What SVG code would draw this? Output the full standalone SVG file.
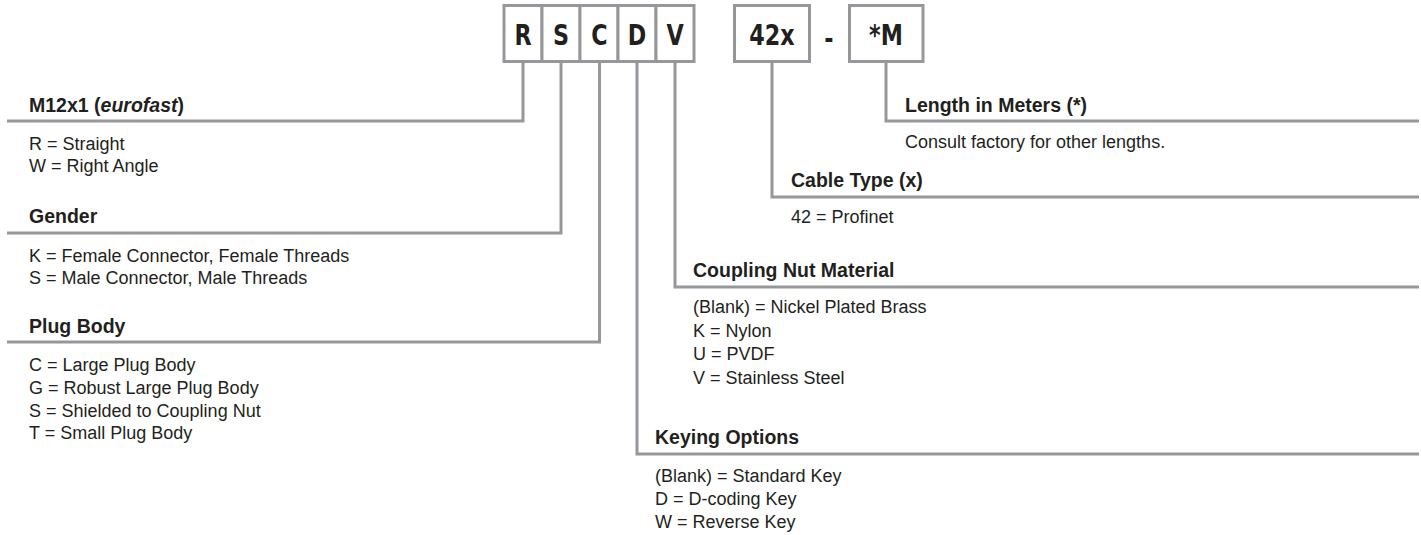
<svg xmlns="http://www.w3.org/2000/svg" width="1421" height="535" viewBox="0 0 1421 535">
<style>
.cell{fill:#ffffff;stroke:#96979b;stroke-width:3}
.code{font-family:"DejaVu Sans Condensed","DejaVu Sans",sans-serif;font-stretch:condensed;font-weight:bold;font-size:27.5px;fill:#231f20;text-anchor:middle}
.lead{fill:none;stroke:#96979b;stroke-width:3;stroke-linejoin:miter;stroke-linecap:butt}
.hd{font-family:"Liberation Sans",Arial,sans-serif;font-weight:bold;font-size:19.5px;fill:#231f20}
.bd{font-family:"Liberation Sans",Arial,sans-serif;font-size:18px;fill:#231f20}
</style>
<rect width="1421" height="535" fill="#ffffff"/>

<g id="connectors">
<polyline class="lead" points="523,61.5 523,121 7,121"/>
<polyline class="lead" points="561,61.5 561,233 7,233"/>
<polyline class="lead" points="599.5,61.5 599.5,342 7,342"/>
<polyline class="lead" points="637,61.5 637,454 1419,454"/>
<polyline class="lead" points="675,61.5 675,287 1419,287"/>
<polyline class="lead" points="772,61.5 772,197 1419,197"/>
<polyline class="lead" points="886,61.5 886,121 1419,121"/>
</g>

<g id="code-R"><rect class="cell" x="504" y="5.5" width="38" height="56"/><text class="code" transform="translate(523,45) scale(0.9,1)">R</text></g>
<g id="code-S"><rect class="cell" x="542" y="5.5" width="38" height="56"/><text class="code" transform="translate(561,45) scale(0.9,1)">S</text></g>
<g id="code-C"><rect class="cell" x="580" y="5.5" width="38" height="56"/><text class="code" transform="translate(599.5,45) scale(0.9,1)">C</text></g>
<g id="code-D"><rect class="cell" x="618" y="5.5" width="38" height="56"/><text class="code" transform="translate(637,45) scale(0.9,1)">D</text></g>
<g id="code-V"><rect class="cell" x="656" y="5.5" width="38" height="56"/><text class="code" transform="translate(675,45) scale(0.9,1)">V</text></g>
<g id="code-42x"><rect class="cell" x="734.5" y="5.5" width="75" height="56"/><text class="code" transform="translate(772,45) scale(0.9,1)">42x</text></g>
<g id="code-dash"><text class="code" transform="translate(829,47.5) scale(0.9,1)">-</text></g>
<g id="code-M"><rect class="cell" x="849.5" y="5.5" width="73.5" height="56"/><text class="code" transform="translate(886,45) scale(0.9,1)">*M</text></g>

<g id="node-m12">
<text class="hd" x="29" y="111.5">M12x1 (<tspan font-style="italic">eurofast</tspan>)</text>
<text class="bd" x="29" y="149.5">R = Straight</text>
<text class="bd" x="29" y="172">W = Right Angle</text>
</g>

<g id="node-gender">
<text class="hd" x="29" y="223">Gender</text>
<text class="bd" x="29" y="261.5">K = Female Connector, Female Threads</text>
<text class="bd" x="29" y="284">S = Male Connector, Male Threads</text>
</g>

<g id="node-plug">
<text class="hd" x="29" y="333">Plug Body</text>
<text class="bd" x="29" y="371">C = Large Plug Body</text>
<text class="bd" x="29" y="394">G = Robust Large Plug Body</text>
<text class="bd" x="29" y="416.5">S = Shielded to Coupling Nut</text>
<text class="bd" x="29" y="439">T = Small Plug Body</text>
</g>

<g id="node-length">
<text class="hd" x="905" y="111.5">Length in Meters (*)</text>
<text class="bd" x="905" y="148">Consult factory for other lengths.</text>
</g>

<g id="node-cable">
<text class="hd" x="791" y="186.5">Cable Type (x)</text>
<text class="bd" x="791" y="223">42 = Profinet</text>
</g>

<g id="node-coupling">
<text class="hd" x="693" y="276.5">Coupling Nut Material</text>
<text class="bd" x="693" y="313">(Blank) = Nickel Plated Brass</text>
<text class="bd" x="693" y="336.5">K = Nylon</text>
<text class="bd" x="693" y="360">U = PVDF</text>
<text class="bd" x="693" y="383.5">V = Stainless Steel</text>
</g>

<g id="node-keying">
<text class="hd" x="655" y="444">Keying Options</text>
<text class="bd" x="655" y="481.5">(Blank) = Standard Key</text>
<text class="bd" x="655" y="505">D = D-coding Key</text>
<text class="bd" x="655" y="528">W = Reverse Key</text>
</g>
</svg>
